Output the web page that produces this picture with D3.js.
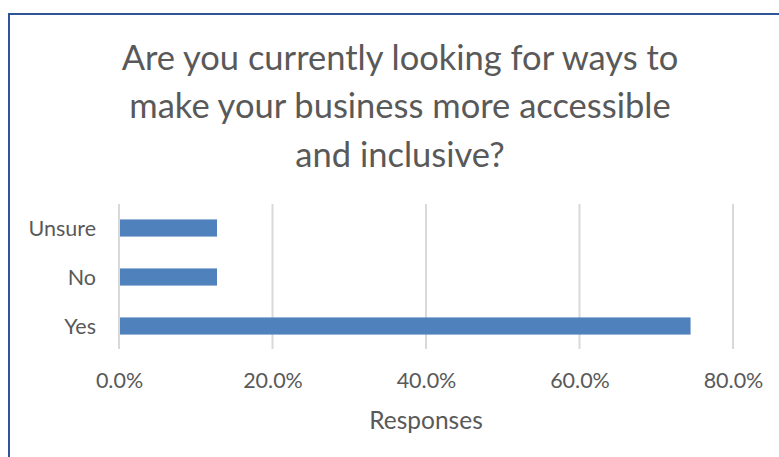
<!DOCTYPE html>
<html>
<head>
<meta charset="utf-8">
<script src="https://cdn.jsdelivr.net/npm/d3@7"></script>
<style>
  html, body { margin: 0; padding: 0; background: #ffffff; }
  svg { display: block; }
  text { font-family: Lato, "Open Sans", sans-serif; fill: #595959; }
</style>
</head>
<body>
<svg id="chart" width="779" height="457"></svg>
<script>
// Survey answers, top to bottom as shown
const categories = ["Unsure", "No", "Yes"];
const shares = [0.1277, 0.1277, 0.7447];
const tickValues = [0, 0.2, 0.4, 0.6, 0.8];
const titleLines = [
  "Are you currently looking for ways to",
  "make your business more accessible",
  "and inclusive?"
];
const axisTitle = "Responses";

const svg = d3.select("#chart");

// Chart frame (runs off the right and bottom edges)
svg.append("rect")
  .attr("x", 9).attr("y", 14)
  .attr("width", 800).attr("height", 480)
  .attr("fill", "#ffffff")
  .attr("stroke", "#2F5597")
  .attr("stroke-width", 2);

// Title
svg.append("g")
  .selectAll("text")
  .data(titleLines)
  .join("text")
  .attr("x", 400)
  .attr("y", (d, i) => 70 + i * 48.3)
  .attr("text-anchor", "middle")
  .attr("font-size", 34.5)
  .text(d => d);

const x = d3.scaleLinear().domain([0, 0.8]).range([119, 733]);
const y = d3.scaleBand()
  .domain(categories)
  .range([203.5, 350.5])
  .paddingInner(0.65)
  .paddingOuter(0.325);

// Vertical gridlines
svg.append("g")
  .selectAll("line")
  .data(tickValues)
  .join("line")
  .attr("x1", d => x(d)).attr("x2", d => x(d))
  .attr("y1", 204).attr("y2", 349)
  .attr("stroke", "#D9D9D9")
  .attr("stroke-width", 2);

// Bars
svg.append("g")
  .selectAll("rect")
  .data(categories.map((c, i) => ({ c, v: shares[i] })))
  .join("rect")
  .attr("x", x(0) + 1)
  .attr("y", d => y(d.c))
  .attr("width", d => x(d.v) - x(0) - 1)
  .attr("height", y.bandwidth())
  .attr("fill", "#4F81BD");

// X axis labels
const xAxis = d3.axisBottom(x)
  .tickValues(tickValues)
  .tickFormat(d3.format(".1%"))
  .tickSize(0)
  .tickPadding(0);
const gx = svg.append("g")
  .attr("transform", "translate(0,373)")
  .call(xAxis);
gx.select(".domain").remove();
gx.selectAll("text")
  .attr("dy", null)
  .attr("y", 15)
  .attr("font-size", 21.5)
  .attr("fill", null);
gx.attr("font-family", null).attr("font-size", null);

// Y axis labels
const yAxis = d3.axisLeft(y).tickSize(0).tickPadding(0);
const gy = svg.append("g")
  .attr("transform", "translate(96,0)")
  .call(yAxis);
gy.select(".domain").remove();
gy.selectAll("text")
  .attr("dy", "0.35em")
  .attr("font-size", 21.5)
  .attr("fill", null);
gy.attr("font-family", null).attr("font-size", null);

// Axis title
svg.append("text")
  .attr("x", (x(0) + x(0.8)) / 2)
  .attr("y", 428.5)
  .attr("text-anchor", "middle")
  .attr("font-size", 24.5)
  .text(axisTitle);
</script>
</body>
</html>
